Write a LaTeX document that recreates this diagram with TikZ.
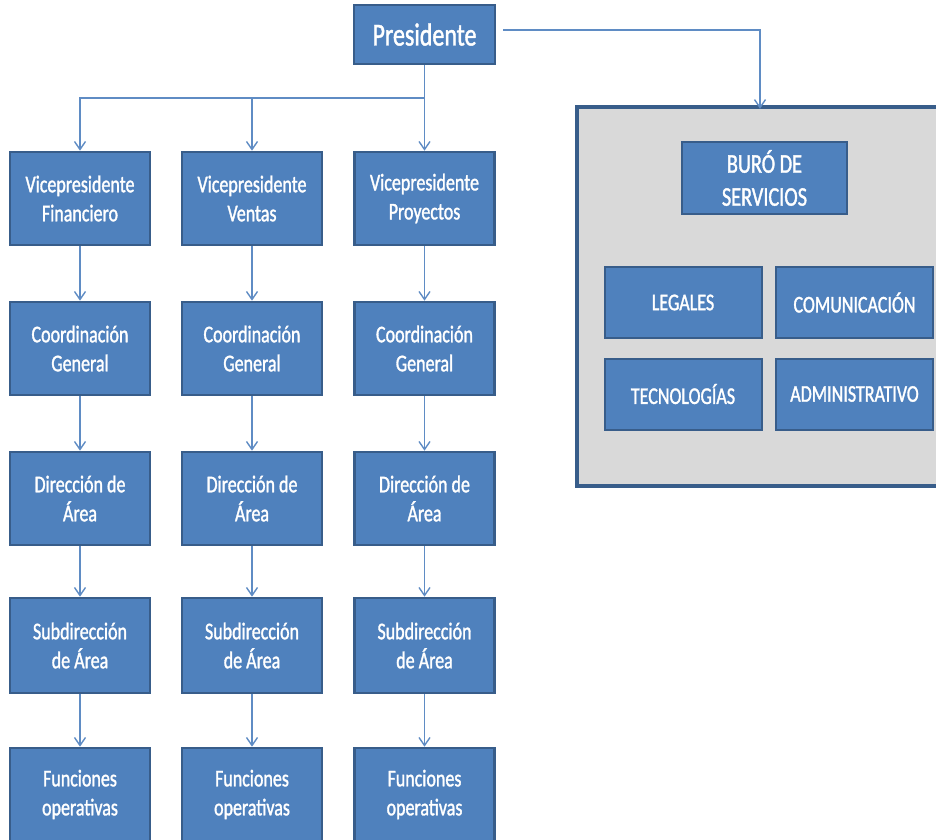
\documentclass[tikz,border=0pt]{standalone}
\usepackage{fontspec}
\setmainfont{Carlito}[FakeStretch=0.75,FakeBold=1.3]
\usepackage{xcolor}
\usetikzlibrary{arrows.meta}

\definecolor{boxblue}{HTML}{4F81BD}
\definecolor{boxedge}{HTML}{385D8A}
\definecolor{linkblue}{HTML}{5F8CC4}
\definecolor{groupgray}{HTML}{D9D9D9}

\begin{document}
\begin{tikzpicture}[x=1pt,y=-1pt,
    >={Straight Barb[length=8pt,width=11pt]},
    link/.style={draw=linkblue,line width=1.4pt},
    unit/.style={rectangle,fill=boxblue,draw=boxedge,line width=2.6pt,text=white,
        align=center,inner sep=0pt,minimum width=140pt,minimum height=93pt,
        font=\fontsize{24}{29}\selectfont},
    service/.style={unit,line width=2pt,minimum width=157pt,minimum height=71pt}]
    \useasboundingbox (0,0) rectangle (936,839);

    % service group, open on the right
    \node[fill=groupgray,minimum width=362pt,minimum height=379pt,inner sep=0pt] (group) at (758,296.5) {};
    \draw[boxedge,line width=3.5pt] (group.north east) -- (group.north west) -- (group.south west) -- (group.south east);
    \node[service,minimum width=165pt,minimum height=72pt,font=\fontsize{27}{33}\selectfont] (buro) at (764.5,178) {BURÓ DE\\SERVICIOS};
    \node[service] (legales) at (683,302.5) {LEGALES};
    \node[service] (comunic) at (854.5,302.5) {COMUNICACIÓN};
    \node[service] (tecno) at (683,394) {TECNOLOGÍAS};
    \node[service] (admin) at (854.5,394) {ADMINISTRATIVO};

    % top
    \node[unit,minimum width=141pt,minimum height=59pt,font=\fontsize{32}{38}\selectfont] (pres) at (424.5,34.5) {Presidente};
    \coordinate (split) at (424.5,98);
    \coordinate (presout) at (503,30);

    % columns
    \node[unit] (vicefin) at (80,198.5) {Vicepresidente\\Financiero};
    \node[unit] (vicevent) at (252,198.5) {Vicepresidente\\Ventas};
    \node[unit] (viceproy) at (424.5,198.5) {Vicepresidente\\Proyectos};

    \node[unit] (coordfin) at (80,348.5) {Coordinación\\General};
    \node[unit] (coordvent) at (252,348.5) {Coordinación\\General};
    \node[unit] (coordproy) at (424.5,348.5) {Coordinación\\General};

    \node[unit] (dirfin) at (80,498.5) {Dirección de\\Área};
    \node[unit] (dirvent) at (252,498.5) {Dirección de\\Área};
    \node[unit] (dirproy) at (424.5,498.5) {Dirección de\\Área};

    \node[unit,minimum height=95pt] (subfin) at (80,645.5) {Subdirección\\de Área};
    \node[unit,minimum height=95pt] (subvent) at (252,645.5) {Subdirección\\de Área};
    \node[unit,minimum height=95pt] (subproy) at (424.5,645.5) {Subdirección\\de Área};

    \node[unit] (funfin) at (80,794.5) {Funciones\\operativas};
    \node[unit] (funvent) at (252,794.5) {Funciones\\operativas};
    \node[unit] (funproy) at (424.5,794.5) {Funciones\\operativas};

    % connectors
    \draw[link] (pres.south) -- (split);
    \draw[link,->] (split) -| (vicefin.north);
    \draw[link,->] (split) -| (vicevent.north);
    \draw[link,->] (split) -- (viceproy.north);
    \draw[link,->] (presout) -| ([yshift=-2pt]group.north -| 760,0);

    \draw[link,->] (vicefin) -- (coordfin);
    \draw[link,->] (vicevent) -- (coordvent);
    \draw[link,->] (viceproy) -- (coordproy);
    \draw[link,->] (coordfin) -- (dirfin);
    \draw[link,->] (coordvent) -- (dirvent);
    \draw[link,->] (coordproy) -- (dirproy);
    \draw[link,->] (dirfin) -- (subfin);
    \draw[link,->] (dirvent) -- (subvent);
    \draw[link,->] (dirproy) -- (subproy);
    \draw[link,->] (subfin) -- (funfin);
    \draw[link,->] (subvent) -- (funvent);
    \draw[link,->] (subproy) -- (funproy);
\end{tikzpicture}
\end{document}
